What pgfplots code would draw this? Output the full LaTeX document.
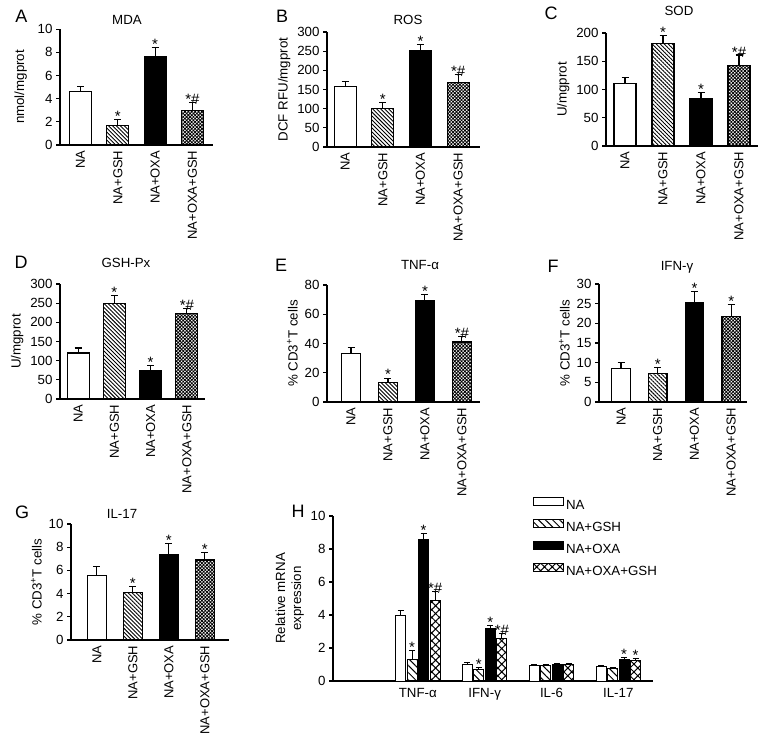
\documentclass[border=0pt]{standalone}
\usepackage{fontspec}
\setmainfont{Liberation Sans}
\usepackage{pgfplots}
\pgfplotsset{compat=1.18}
\usetikzlibrary{patterns.meta}

\pgfplotsset{
  every axis/.append style={font=\fontsize{13.3}{16}\selectfont},
  base/.style={
    scale only axis, anchor=south west,
    axis lines=left,
    axis line style={-, line width=1.1pt},
    ymin=0,
    xtick style={draw=none},
    ytick style={line width=1.1pt, black},
    tick align=outside,
    major tick length=4pt,
    /pgf/number format/assume math mode=true,
    clip=false,
  },
  panel/.style={
    base,
    xtick={0,1,2,3},
    xticklabels={NA,NA+GSH,NA+OXA,NA+OXA+GSH},
    xticklabel style={rotate=90, anchor=east, inner sep=1.5pt, font=\fontsize{13}{15}\selectfont},
  },
  bar/.style={ybar, bar width=#1, draw=black, line width=1.1pt,
    error bars/y dir=plus, error bars/y explicit,
    error bars/error bar style={line width=1.1pt, draw=black},
    error bars/error mark options={rotate=90, line width=1.1pt, mark size=3.5pt, draw=black}},
  bar/.default=22pt,
  ann/.style={draw=none, mark=none, nodes near coords, point meta=explicit symbolic,
    nodes near coords style={anchor=base, yshift=-2pt, inner sep=1pt, font=\fontsize{15}{17}\selectfont}},
  pNA/.style={fill=white},
  pGSH/.style={pattern={Lines[angle=-45,distance=2.8pt,line width=0.9pt]}},
  pOXA/.style={fill=black},
  pBOTH/.style={pattern={Hatch[angle=45,distance=2.4pt,line width=0.8pt]}},
  topten/.style={ymax=10.02, ytick={0,2,4,6,8}, extra y ticks={10},
    extra y tick labels={10},
    extra y tick style={tick align=outside, major tick length=4pt, ytick style={line width=1.1pt, black}}},
}

\begin{document}
\begin{tikzpicture}
\path[use as bounding box] (0,0) rectangle (765pt,-738pt);

% ---------- Panel A ----------
\begin{axis}[panel, topten, at={(60pt,-145pt)}, width=153pt, height=116pt,
  xmin=-0.55, xmax=3.55, ylabel={nmol/mgprot}]
\addplot[bar, pNA] coordinates {(0,4.6) +- (0,0.42)};
\addplot[bar, pGSH] coordinates {(1,1.7) +- (0,0.5)};
\addplot[bar, pOXA] coordinates {(2,7.6) +- (0,0.8)};
\addplot[bar, pBOTH] coordinates {(3,3.0) +- (0,0.65)};
\addplot[ann] coordinates {(1,2.2) [*] (2,8.4) [*] (3,3.65) [*\#]};
\end{axis}

% ---------- Panel B ----------
\begin{axis}[panel, at={(327pt,-147pt)}, width=153pt, height=115pt,
  xmin=-0.48, xmax=3.58, ymax=300, ytick={0,50,100,150,200,250,300}, ylabel={DCF RFU/mgprot}]
\addplot[bar, pNA] coordinates {(0,157) +- (0,13)};
\addplot[bar, pGSH] coordinates {(1,100) +- (0,16)};
\addplot[bar, pOXA] coordinates {(2,252) +- (0,16)};
\addplot[bar, pBOTH] coordinates {(3,168) +- (0,20)};
\addplot[ann] coordinates {(1,116) [*] (2,268) [*] (3,188) [*\#]};
\end{axis}

% ---------- Panel C ----------
\begin{axis}[panel, at={(606pt,-146pt)}, width=152pt, height=113pt,
  xmin=-0.5, xmax=3.5, ymax=200, ytick={0,50,100,150,200}, ylabel={U/mgprot}]
\addplot[bar, pNA] coordinates {(0,111) +- (0,10)};
\addplot[bar, pGSH] coordinates {(1,181) +- (0,15)};
\addplot[bar, pOXA] coordinates {(2,84) +- (0,10)};
\addplot[bar, pBOTH] coordinates {(3,142) +- (0,19)};
\addplot[ann] coordinates {(1,196) [*] (2,94) [*] (3,161) [*\#]};
\end{axis}

% ---------- Panel D ----------
\begin{axis}[panel, at={(60pt,-399pt)}, width=145pt, height=115pt,
  xmin=-0.5, xmax=3.5, ymax=300, ytick={0,50,100,150,200,250,300}, ylabel={U/mgprot}]
\addplot[bar, pNA] coordinates {(0,120) +- (0,13)};
\addplot[bar, pGSH] coordinates {(1,250) +- (0,20)};
\addplot[bar, pOXA] coordinates {(2,75) +- (0,12)};
\addplot[bar, pBOTH] coordinates {(3,224) +- (0,11)};
\addplot[ann] coordinates {(1,270) [*] (2,87) [*] (3,235) [*\#]};
\end{axis}

% ---------- Panel E ----------
\begin{axis}[panel, at={(327pt,-402pt)}, width=153pt, height=117pt,
  xmin=-0.65, xmax=3.49, ymax=80, ytick={0,20,40,60,80}, ylabel={\% CD3\textsuperscript{+}T cells}]
\addplot[bar=18.5pt, pNA] coordinates {(0,33) +- (0,4)};
\addplot[bar=18.5pt, pGSH] coordinates {(1,13.5) +- (0,2.8)};
\addplot[bar=18.5pt, pOXA] coordinates {(2,69.7) +- (0,4.1)};
\addplot[bar=18.5pt, pBOTH] coordinates {(3,41) +- (0,4)};
\addplot[ann] coordinates {(1,16.5) [*] (2,73.8) [*] (3,45) [*\#]};
\end{axis}

% ---------- Panel F ----------
\begin{axis}[panel, at={(599pt,-402pt)}, width=148pt, height=118pt,
  xmin=-0.6, xmax=3.43, ymax=30, ytick={0,5,10,15,20,25,30}, ylabel={\% CD3\textsuperscript{+}T cells}]
\addplot[bar=18.5pt, pNA] coordinates {(0,8.6) +- (0,1.4)};
\addplot[bar=18.5pt, pGSH] coordinates {(1,7.2) +- (0,1.5)};
\addplot[bar=18.5pt, pOXA] coordinates {(2,25.2) +- (0,2.8)};
\addplot[bar=18.5pt, pBOTH] coordinates {(3,21.7) +- (0,3)};
\addplot[ann] coordinates {(1,8.7) [*] (2,28) [*] (3,24.7) [*]};
\end{axis}

% ---------- Panel G ----------
\begin{axis}[panel, at={(71pt,-640pt)}, width=158pt, height=116pt,
  xmin=-0.72, xmax=3.67, ymax=10, ytick={0,2,4,6,8,10},
  ylabel={\% CD3\textsuperscript{+}T cells}]
\addplot[bar=18.5pt, pNA] coordinates {(0,5.55) +- (0,0.8)};
\addplot[bar=18.5pt, pGSH] coordinates {(1,4.1) +- (0,0.55)};
\addplot[bar=18.5pt, pOXA] coordinates {(2,7.4) +- (0,0.95)};
\addplot[bar=18.5pt, pBOTH] coordinates {(3,6.9) +- (0,0.62)};
\addplot[ann] coordinates {(1,4.65) [*] (2,8.35) [*] (3,7.52) [*]};
\end{axis}

% ---------- Panel H ----------
\begin{axis}[base, at={(333pt,-681pt)}, width=320pt, height=165pt,
  xmin=-0.27, xmax=4.52, ymax=10, ytick={0,2,4,6,8,10},
  xtick={1,2,3,4}, xticklabels={TNF-α,IFN-γ,IL-6,IL-17},
  ylabel={Relative mRNA\\expression}, ylabel style={align=center},
  ybar=1.5pt, bar width=10pt,
  every axis plot/.append style={draw=black, line width=1pt},
  error bars/y dir=plus, error bars/y explicit,
  error bars/error bar style={line width=1pt, draw=black},
  error bars/error mark options={rotate=90, line width=1pt, mark size=3pt, draw=black},
  legend image code/.code={\draw[#1,/tikz/.cd] (0pt,0pt) rectangle (30pt,8pt);},
  legend style={draw=none, fill=none, at={(0.615,1.13)}, anchor=north west, row sep=6.3pt},
  legend cell align=left]
\addplot[fill=white] coordinates {(1,3.98) +- (0,0.3) (2,1.0) +- (0,0.1) (3,0.97) +- (0,0.04) (4,0.85) +- (0,0.08)};
\addplot[pattern={Lines[angle=-45,distance=5pt,line width=1pt]}] coordinates {(1,1.29) +- (0,0.57) (2,0.67) +- (0,0.15) (3,0.95) +- (0,0.03) (4,0.75) +- (0,0.05)};
\addplot[fill=black] coordinates {(1,8.59) +- (0,0.34) (2,3.17) +- (0,0.2) (3,1.03) +- (0,0.05) (4,1.3) +- (0,0.1)};
\addplot[pattern={Hatch[angle=45,distance=5.5pt,line width=1pt]}] coordinates {(1,4.89) +- (0,0.55) (2,2.6) +- (0,0.27) (3,1.0) +- (0,0.05) (4,1.22) +- (0,0.13)};
\legend{NA,NA+GSH,NA+OXA,NA+OXA+GSH}
\end{axis}
\begin{axis}[scale only axis, anchor=south west, at={(333pt,-681pt)}, width=320pt, height=165pt,
  xmin=-0.27, xmax=4.52, ymin=0, ymax=10, axis lines=none, clip=false]
\addplot[ann] coordinates {(0.914,1.86) [*] (1.086,8.93) [*] (1.259,5.44) [*\#]
  (1.914,0.82) [*] (2.086,3.37) [*] (2.259,2.87) [*\#] (4.086,1.4) [*] (4.259,1.35) [*]};
\end{axis}

% ---------- titles and panel letters ----------
\begin{scope}[every node/.style={font=\fontsize{13.3}{16}\selectfont}]
\node at (127pt,-20pt) {MDA};
\node at (408pt,-20pt) {ROS};
\node at (679pt,-11pt) {SOD};
\node at (126pt,-263pt) {GSH-Px};
\node at (420pt,-265pt) {TNF-α};
\node at (677pt,-267pt) {IFN-γ};
\node at (122pt,-514pt) {IL-17};
\end{scope}
\begin{scope}[every node/.style={font=\fontsize{18}{20}\selectfont}]
\node at (21.5pt,-16pt) {A};
\node at (282pt,-16pt) {B};
\node at (551pt,-13pt) {C};
\node at (21pt,-262pt) {D};
\node at (281pt,-265pt) {E};
\node at (553pt,-266pt) {F};
\node at (22pt,-512pt) {G};
\node at (298pt,-511pt) {H};
\end{scope}
\end{tikzpicture}
\end{document}
